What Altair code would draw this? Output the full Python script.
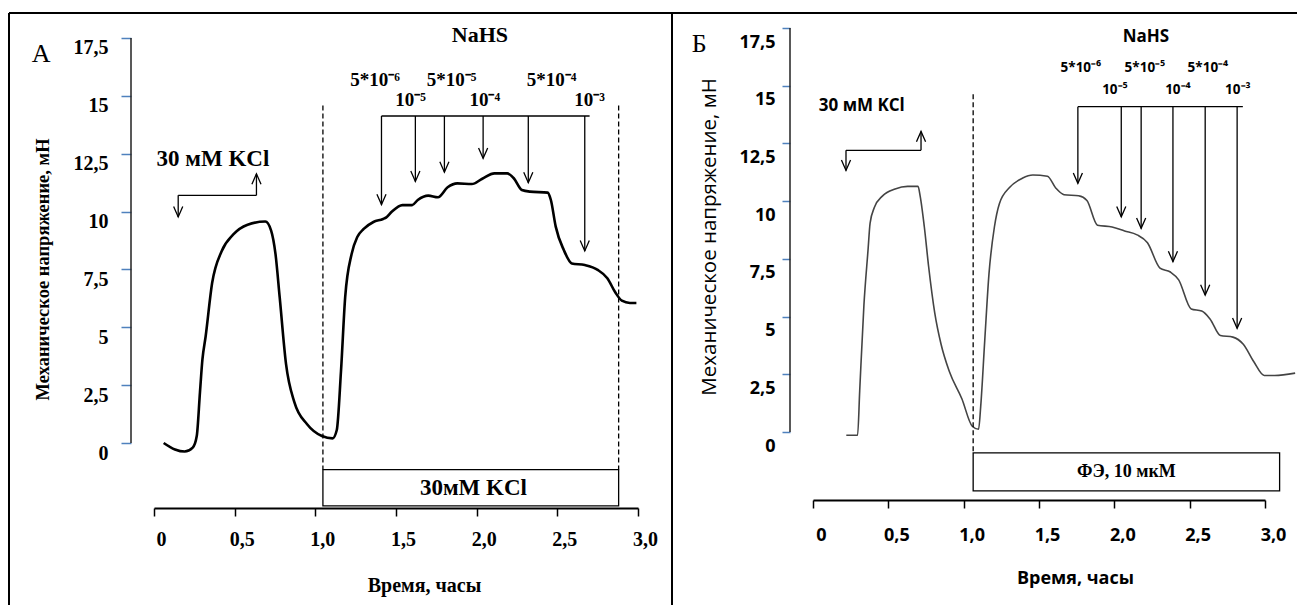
import altair as alt
import pandas as pd

# ---------------- data ----------------
# Panel A (30 mM KCl precontraction)
a_time = [0.06, 0.13, 0.19, 0.24, 0.265, 0.285, 0.30, 0.32, 0.36, 0.42, 0.49, 0.58, 0.69,
          0.726, 0.753, 0.779, 0.818, 0.871, 0.949, 1.041, 1.107, 1.133, 1.159, 1.185, 1.225,
          1.26, 1.30, 1.36, 1.42, 1.44, 1.475, 1.54, 1.60, 1.635, 1.70, 1.76, 1.82, 1.88,
          1.97, 2.035, 2.11, 2.19, 2.23, 2.28, 2.33, 2.44, 2.46, 2.49, 2.54, 2.59, 2.67,
          2.75, 2.81, 2.86, 2.90, 2.95, 2.99]
a_force = [0.0, -0.28, -0.37, -0.2, 0.3, 2.2, 3.6, 4.6, 6.9, 8.3, 9.0, 9.43, 9.57,
           9.18, 8.17, 6.3, 3.43, 1.74, 0.81, 0.30, 0.2, 0.56, 3.1, 6.3, 8.17,
           8.9, 9.25, 9.55, 9.68, 9.75, 10.0, 10.28, 10.28, 10.5, 10.69, 10.62, 11.05, 11.22,
           11.19, 11.42, 11.65, 11.65, 11.44, 10.93, 10.86, 10.82, 10.5, 9.35, 8.34, 7.76, 7.69,
           7.48, 7.12, 6.5, 6.15, 6.05, 6.05]

# Panel B (phenylephrine precontraction)
b_time = [0.221, 0.296, 0.31, 0.338, 0.365, 0.379, 0.407, 0.462, 0.545, 0.628, 0.697, 0.711,
          0.739, 0.767, 0.808, 0.85, 0.905, 0.988, 1.057, 1.099, 1.113, 1.14, 1.168, 1.204,
          1.237, 1.306, 1.389, 1.459, 1.556, 1.611, 1.666, 1.763, 1.818, 1.888, 1.985, 2.068,
          2.151, 2.22, 2.303, 2.372, 2.427, 2.51, 2.58, 2.635, 2.704, 2.787, 2.856, 2.926,
          2.995, 3.064, 3.2]
b_force = [-0.14, -0.14, 1.78, 5.5, 7.86, 9.05, 9.72, 10.23, 10.53, 10.64, 10.64, 10.23,
           8.88, 7.19, 5.16, 3.8, 2.62, 1.44, 0.25, 0.12, 1.1, 3.97, 6.85, 8.88,
           9.89, 10.6, 10.99, 11.13, 11.08, 10.57, 10.28, 10.23, 10.03, 8.96, 8.88, 8.71,
           8.54, 8.2, 7.1, 6.93, 6.59, 5.33, 5.24, 4.9, 4.18, 4.11, 3.8, 3.04,
           2.45, 2.45, 2.55]

conc_labels = ["5*10⁻⁶", "10⁻⁵", "5*10⁻⁵", "10⁻⁴", "5*10⁻⁴", "10⁻³"]

a_arrow_x = [1.41, 1.62, 1.80, 2.04, 2.32, 2.67]
a_arrow_tip = [10.3, 11.3, 11.7, 12.3, 11.25, 8.3]
a_bar_y = 14.13
a_bar_end = 2.70
a_label_x = [1.37, 1.59, 1.845, 2.05, 2.465, 2.70]
a_label_y = [15.69, 14.82, 15.69, 14.82, 15.69, 14.82]

b_arrow_x = [1.758, 2.046, 2.178, 2.389, 2.603, 2.815]
b_arrow_tip = [10.77, 9.32, 8.82, 7.38, 5.93, 4.49]
b_bar_y = 14.09
b_bar_end = 2.853
b_label_x = [1.778, 2.004, 2.203, 2.422, 2.621, 2.82]
b_label_y = [15.76, 14.81, 15.76, 14.81, 15.76, 14.81]

x_ticks = [0, 0.5, 1.0, 1.5, 2.0, 2.5, 3.0]
x_tick_labels = ["0", "0,5", "1,0", "1,5", "2,0", "2,5", "3,0"]
y_ticks = [0, 2.5, 5, 7.5, 10, 12.5, 15, 17.5]
y_tick_labels = ["0", "2,5", "5", "7,5", "10", "12,5", "15", "17,5"]
x_title = "Время, часы"
y_title = "Механическое напряжение, мН"

ARROW = "M-0.7,-1.6L0,0L0.7,-1.6"
BLUE = "#4f81bd"


def label_expr(vals, labels):
    parts = [f"abs(datum.value - {v}) < 0.001 ? '{l}'" for v, l in zip(vals, labels)]
    return " : ".join(parts) + " : ''"


def panel(p):
    W, H = p["width"], p["height"]
    xs = alt.Scale(domain=[0, 3], nice=False, zero=False)
    ys = alt.Scale(domain=[0, p["ytop"]], nice=False)
    one = pd.DataFrame({"k": [0]})

    def X(field="x"):
        return alt.X(field, type="quantitative", scale=xs)

    def Y(field="y"):
        return alt.Y(field, type="quantitative", scale=ys)

    layers = []

    # main trace (carries the axes)
    tr = pd.DataFrame({"x": p["time"], "y": p["force"]})
    xaxis = alt.Axis(values=x_ticks, labelExpr=label_expr(x_ticks, x_tick_labels), grid=False,
                     offset=p["xoff"], tickSize=8, tickColor="black", tickWidth=1.5,
                     domainColor="black", domainWidth=2,
                     labelFont=p["font"], labelFontSize=p["labfs"], labelFontWeight="bold", labelColor="black",
                     labelPadding=p["xlabpad"], labelOffset=p["xlaboff"], labelFlush=False,
                     title=x_title, titleFont=p["font"], titleFontSize=p["xtfs"],
                     titleFontWeight="bold", titleColor="black",
                     titleX=p["xtx"], titleY=p["xty"], titleBaseline="middle", titleAlign="center")
    yaxis = alt.Axis(values=y_ticks, labelExpr=label_expr(y_ticks, y_tick_labels), grid=False,
                     offset=p["yoff"], tickSize=p["ytick"], tickColor=BLUE, tickWidth=1.5,
                     domain=False, title=None,
                     labelFont=p["font"], labelFontSize=p["labfs"], labelFontWeight="bold", labelColor="black",
                     labelPadding=p["ylabpad"], labelOffset=p["ylaboff"], labelFlush=False)
    layers.append(alt.Chart(tr).mark_line(color=p["lc"], strokeWidth=p["lw"], interpolate="monotone").encode(
        x=alt.X("x:Q", scale=xs, axis=xaxis), y=alt.Y("y:Q", scale=ys, axis=yaxis)))

    # y-axis line, spanning only the tick range 0..17.5
    yl = pd.DataFrame({"y": [y_ticks[0]], "y2": [y_ticks[-1]]})
    layers.append(alt.Chart(yl).mark_rule(color="#222222", strokeWidth=1.5).encode(
        x=alt.value(-p["yoff"]), y=Y(), y2="y2"))

    # y-axis title (rotated)
    yt = pd.DataFrame({"x": [p["ytitle"][0]], "y": [p["ytitle"][1]], "t": [y_title]})
    layers.append(alt.Chart(yt).mark_text(font=p["font"], fontSize=p["ytfs"], fontWeight=p["ytfw"],
                                          color="black", angle=270, baseline="middle", align="center").encode(
        x=X(), y=Y(), text="t:N"))

    # frame of the table cell (decorative)
    frame = alt.Chart(one).mark_rule(color="black", strokeWidth=2)
    layers.append(frame.encode(x=alt.value(p["fl"]), x2=alt.value(p["fr"]), y=alt.value(p["ft"])))
    if p["left_frame"]:
        layers.append(frame.encode(x=alt.value(p["fl"]), y=alt.value(p["ft"]), y2=alt.value(p["fb"])))
        layers.append(frame.encode(x=alt.value(p["fr"]), y=alt.value(p["ft"]), y2=alt.value(p["fb"])))

    # dashed lines
    dd = pd.DataFrame({"x": p["dash_x"], "y": [p["dash_top"]] * len(p["dash_x"]),
                       "y2": [p["box"][2]] * len(p["dash_x"])})
    layers.append(alt.Chart(dd).mark_rule(color="black", strokeWidth=1.3, strokeDash=[5, 3]).encode(
        x=X(), y=Y(), y2="y2"))

    # box with treatment label
    bx = pd.DataFrame({"x": [p["box"][0]], "x2": [p["box"][1]], "y": [p["box"][2]], "y2": [p["box"][3]],
                       "t": [p["box_text"]], "xm": [p["box_text_x"]], "ym": [(p["box"][2] + p["box"][3]) / 2]})
    layers.append(alt.Chart(bx).mark_rect(fill="white", stroke="black", strokeWidth=1.3).encode(
        x=X(), x2="x2", y=Y(), y2="y2"))
    layers.append(alt.Chart(bx).mark_text(font="Liberation Serif", fontWeight="bold", fontSize=p["box_fs"],
                                          color="black", baseline="middle").encode(
        x=X("xm"), y=Y("ym"), text="t:N"))

    # KCl bracket (down arrow, bar, up arrow)
    bk = p["bracket"]  # x_left, x_right, y_bar, y_down_tip, y_up_tip
    br = pd.DataFrame({"x": [bk[0]], "x2": [bk[1]], "y": [bk[2]]})
    layers.append(alt.Chart(br).mark_rule(color="black", strokeWidth=1.3).encode(x=X(), x2="x2", y=Y()))
    bv = pd.DataFrame({"x": [bk[0], bk[1]], "y": [bk[2], bk[2]], "y2": [bk[3], bk[4]],
                       "a": [0, 180]})
    layers.append(alt.Chart(bv).mark_rule(color="black", strokeWidth=1.3).encode(x=X(), y=Y(), y2="y2"))
    layers.append(alt.Chart(bv).mark_point(shape=ARROW, filled=False, color="black", strokeWidth=1.3,
                                           size=170, opacity=1).encode(
        x=X(), y=Y("y2"), angle=alt.Angle("a:Q", scale=None)))
    kc = pd.DataFrame({"x": [p["kcl_x"]], "y": [p["kcl_y"]], "t": ["30 мМ KCl"]})
    layers.append(alt.Chart(kc).mark_text(font=p["kcl_font"], fontWeight="bold", fontSize=p["kcl_fs"],
                                          color="black").encode(x=X(), y=Y(), text="t:N"))

    # NaHS arrows
    n = len(conc_labels)
    bar = pd.DataFrame({"x": [p["arrow_x"][0]], "x2": [p["bar_end"]], "y": [p["bar_y"]]})
    layers.append(alt.Chart(bar).mark_rule(color="black", strokeWidth=1.3).encode(x=X(), x2="x2", y=Y()))
    ar = pd.DataFrame({"x": p["arrow_x"], "y": [p["bar_y"]] * n, "y2": p["arrow_tip"]})
    layers.append(alt.Chart(ar).mark_rule(color="black", strokeWidth=1.3).encode(x=X(), y=Y(), y2="y2"))
    layers.append(alt.Chart(ar).mark_point(shape=ARROW, filled=False, color="black", strokeWidth=1.3,
                                           size=170, opacity=1).encode(x=X(), y=Y("y2")))
    lb = pd.DataFrame({"x": p["label_x"], "y": p["label_y"], "t": conc_labels})
    layers.append(alt.Chart(lb).mark_text(font=p["font"], fontWeight="bold", fontSize=p["conc_fs"],
                                          color="black").encode(x=X(), y=Y(), text="t:N"))
    nh = pd.DataFrame({"x": [p["nahs"][0]], "y": [p["nahs"][1]], "t": ["NaHS"]})
    layers.append(alt.Chart(nh).mark_text(font=p["font"], fontWeight="bold", fontSize=p["nahs_fs"],
                                          color="black").encode(x=X(), y=Y(), text="t:N"))
    # panel letter
    lt = pd.DataFrame({"x": [p["letter"][0]], "y": [p["letter"][1]], "t": [p["letter"][2]]})
    layers.append(alt.Chart(lt).mark_text(font="Liberation Serif", fontSize=26, color="black").encode(
        x=X(), y=Y(), text="t:N"))

    return alt.layer(*layers).properties(width=W, height=H)


A = dict(width=484, height=415, ytop=17.932, fl=-145, fr=518, ft=-15, fb=577, left_frame=True,
         dash_x=[1.047, 2.88], dash_top=14.58, box=[1.047, 2.88, -1.15, -2.72], box_text="30мМ KCl",
         box_text_x=1.98, box_fs=23, time=a_time, force=a_force, lc="black", lw=2.6,
         font="Liberation Serif", labfs=20, xoff=65, xlabpad=13, xlaboff=7, xtfs=20, xtx=270, xty=77,
         yoff=23, ytick=10, ylabpad=13, ylaboff=10, ytfs=18.5, ytfw="bold", ytitle=[-0.688, 7.5],
         bracket=[0.15, 0.635, 10.7, 9.77, 11.63], kcl_x=0.365, kcl_y=12.25, kcl_font="Liberation Serif",
         kcl_fs=23, arrow_x=a_arrow_x, arrow_tip=a_arrow_tip, bar_y=a_bar_y, bar_end=a_bar_end,
         label_x=a_label_x, label_y=a_label_y, conc_fs=19, nahs=[2.02, 17.63], nahs_fs=22,
         letter=[-0.70, 16.81, "А"])

B = dict(width=452, height=404, ytop=17.5, fl=-143, fr=484, ft=-15, fb=577, left_frame=False,
         dash_x=[1.063], dash_top=14.63, box=[1.063, 3.097, -0.9, -2.55], box_text="ФЭ, 10 мкМ",
         box_text_x=2.08, box_fs=18, time=b_time, force=b_force, lc="#444444", lw=1.6,
         font="Open Sans", labfs=18, xoff=68, xlabpad=18, xlaboff=8, xtfs=18, xtx=262, xty=78,
         yoff=23, ytick=8, ylabpad=7, ylaboff=14, ytfs=20.5, ytfw="normal", ytitle=[-0.683, 8.45],
         bracket=[0.219, 0.717, 12.2, 11.33, 13.02], kcl_x=0.324, kcl_y=14.14, kcl_font="Open Sans",
         kcl_fs=17, arrow_x=b_arrow_x, arrow_tip=b_arrow_tip, bar_y=b_bar_y, bar_end=b_bar_end,
         label_x=b_label_x, label_y=b_label_y, conc_fs=13.5, nahs=[2.21, 17.11], nahs_fs=17,
         letter=[-0.756, 16.8, "Б"])

chart = alt.hconcat(panel(A), panel(B), spacing=-4).properties(
    padding={"left": 0, "top": 4, "right": 0, "bottom": 0}
).configure(background="white").configure_view(stroke=None)

chart.save("out.html", embed_options={"renderer": "svg", "actions": False})
